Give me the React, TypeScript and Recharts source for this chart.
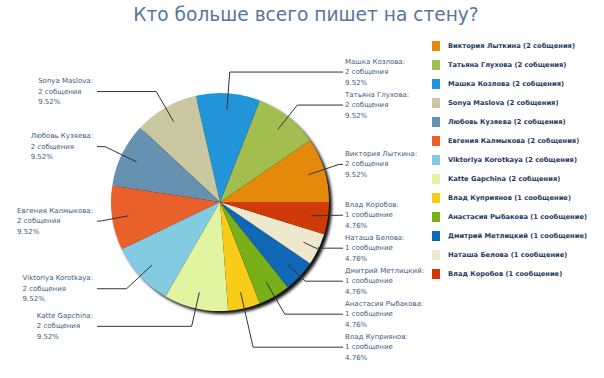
import React from "react"
import { PieChart, Pie, Cell, Legend } from "recharts"

// who wrote on the wall, and how many messages
const names = [
   "Виктория Лыткина",
   "Татьяна Глухова",
   "Машка Козлова",
   "Sonya Maslova",
   "Любовь Кузяева",
   "Евгения Калмыкова",
   "Viktoriya Korotkaya",
   "Katte Gapchina",
   "Влад Куприянов",
   "Анастасия Рыбакова",
   "Дмитрий Метлицкий",
   "Наташа Белова",
   "Влад Коробов",
]
const counts = [2, 2, 2, 2, 2, 2, 2, 2, 1, 1, 1, 1, 1]
const colors = [
   "#E5890B", "#A1BE4F", "#2295D9", "#C9C8A0", "#6791B0", "#E9602A", "#82CBE0",
   "#E1F5A1", "#F9CC19", "#79AF18", "#0F67B6", "#EEE8CD", "#CF3A08",
]

const title = "Кто больше всего пишет на стену?"

const data = names.map((name, i) => ({ name, value: counts[i] }))
const total = counts.reduce((a, b) => a + b, 0)

const msgText = (n: number) => (n === 1 ? `${n} сообщение` : `${n} собщения`)
const pctText = (n: number) => `${((n / total) * 100).toFixed(2)}%`

const RAD = Math.PI / 180
const GAP = 33
const LABEL_FONT = "7px 'DejaVu Sans'"

let ctx: CanvasRenderingContext2D | null = null
const textWidth = (s: string) => {
   if (!ctx) ctx = document.createElement("canvas").getContext("2d")
   if (!ctx) return s.length * 4.2
   ctx.font = LABEL_FONT
   return ctx.measureText(s).width
}

// spread the labels on each side so they don't overlap
const layoutLabels = (cx: number, cy: number, r: number) => {
   let acc = 0
   const items = counts.map((c, i) => {
      const mid = ((acc + c / 2) / total) * 360
      acc += c
      return { i, mid, right: Math.cos(mid * RAD) >= 0, nat: cy - 1.17 * r * Math.sin(mid * RAD), y: 0 }
   })
   for (const side of [true, false]) {
      const sorted = items.filter((it) => it.right === side).sort((a, b) => a.nat - b.nat)
      let groups = sorted.map((it) => ({ items: [it], center: it.nat }))
      let merged = true
      while (merged) {
         merged = false
         for (let k = 1; k < groups.length; k++) {
            const p = groups[k - 1]
            const q = groups[k]
            const pBottom = p.center + ((p.items.length - 1) * GAP) / 2
            const qTop = q.center - ((q.items.length - 1) * GAP) / 2
            if (qTop - pBottom < GAP) {
               const all = p.items.concat(q.items)
               const center = all.reduce((s, it) => s + it.nat, 0) / all.length
               groups.splice(k - 1, 2, { items: all, center })
               merged = true
               break
            }
         }
      }
      groups.forEach((g) => {
         g.items.forEach((it, j) => {
            it.y = g.center - ((g.items.length - 1) * GAP) / 2 + j * GAP
         })
      })
   }
   return items
}

const renderLabel = (props: any) => {
   const { cx, cy, midAngle, outerRadius, index } = props
   const pos = layoutLabels(cx, cy, outerRadius)[index]
   const cos = Math.cos(midAngle * RAD)
   const sin = -Math.sin(midAngle * RAD)
   const ax = cx + outerRadius * 0.85 * cos
   const ay = cy + outerRadius * 0.85 * sin
   const ly = pos.y
   const right = pos.right
   const lineEnd = right ? cx + outerRadius + 14 : cx - outerRadius - 14
   let t = Math.abs(sin) > 0.01 ? (ly - ay) / sin : 0
   if (t < 0) t = 0
   let ex = ax + t * cos
   if (right) ex = Math.min(ex, lineEnd - 4)
   else ex = Math.max(ex, lineEnd + 4)
   const ey = t > 0 ? ly : ay
   const lines = [`${names[index]}:`, msgText(counts[index]), pctText(counts[index])]
   const maxW = Math.max(...lines.map(textWidth))
   const tx = right ? lineEnd + 2 : lineEnd - 4 - maxW
   return (
      <g key={`lbl-${index}`}>
         <polyline
            points={`${ax},${ay} ${ex},${ey} ${lineEnd},${ly}`}
            fill="none"
            stroke="#333"
            strokeWidth={1}
         />
         {lines.map((s, j) => (
            <text
               key={j}
               x={tx}
               y={ly + (j - 1) * 10.5}
               dominantBaseline="central"
               textAnchor="start"
               fontSize={7}
               fontFamily="'DejaVu Sans'"
               fill="#3D5B7B"
            >
               {s}
            </text>
         ))}
      </g>
   )
}

const LegendBox = () => (
   <div style={{ fontFamily: "'DejaVu Sans'", fontSize: 6.7, fontWeight: "bold", color: "#1E3A5E" }}>
      {names.map((n, i) => (
         <div key={n} style={{ height: 19, display: "flex", alignItems: "center", whiteSpace: "nowrap" }}>
            <span style={{ width: 8, height: 10, background: colors[i], marginRight: 8, display: "inline-block" }} />
            {n} ({msgText(counts[i])})
         </div>
      ))}
   </div>
)

export default function App() {
   return (
      <div style={{ position: "absolute", left: 0, top: 0, width: 604, height: 378, background: "#fff" }}>
         <div
            style={{
               position: "absolute",
               top: 4,
               left: 0,
               width: 612,
               textAlign: "center",
               fontFamily: "'DejaVu Sans'",
               fontSize: 18.6,
               color: "#56779B",
               whiteSpace: "nowrap",
            }}
         >
            {title}
         </div>
         <PieChart width={604} height={378}>
            <Pie
               data={[{ name: "shadow", value: 1 }]}
               dataKey="value"
               cx={218}
               cy={200}
               outerRadius={109}
               startAngle={0}
               endAngle={360}
               stroke="none"
               legendType="none"
               isAnimationActive={false}
            >
               <Cell fill="#111" style={{ filter: "blur(1.5px)" }} />
            </Pie>
            <Pie
               data={data}
               dataKey="value"
               nameKey="name"
               cx={215}
               cy={197}
               outerRadius={109}
               startAngle={0}
               endAngle={360}
               stroke="none"
               label={renderLabel}
               labelLine={false}
               isAnimationActive={false}
            >
               {data.map((d, i) => (
                  <Cell key={d.name} fill={colors[i]} />
               ))}
            </Pie>
            <Legend
               content={() => <LegendBox />}
               wrapperStyle={{ position: "absolute", left: 432, top: 36, width: 172, height: 250, bottom: "auto" }}
            />
         </PieChart>
      </div>
   )
}
